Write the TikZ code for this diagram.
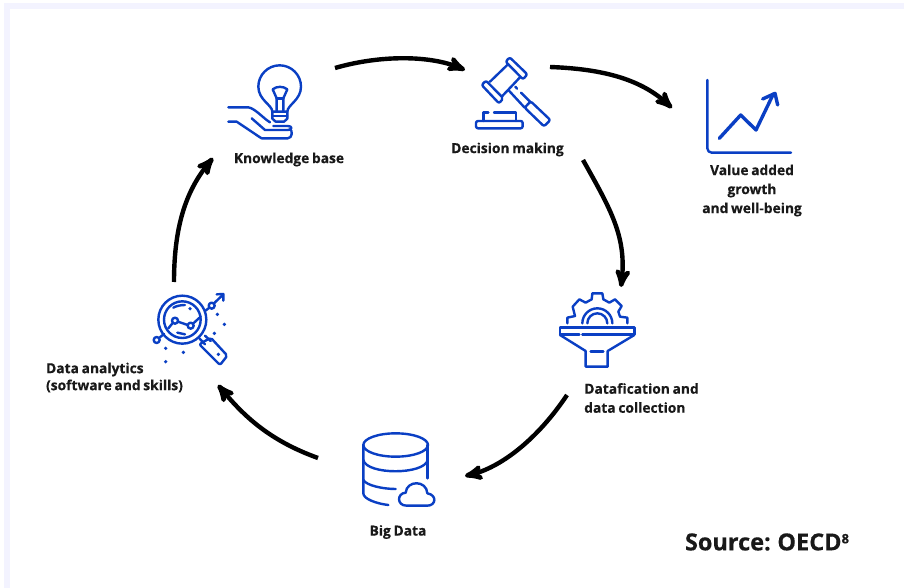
\documentclass[tikz,border=0pt]{standalone}
\usepackage{fontspec}
\setmainfont[BoldFont={Open Sans Bold},BoldFeatures={FakeBold=0.35,WordSpace=0.75}]{Open Sans}
\usepackage{tikz}
\usetikzlibrary{arrows,positioning}
\definecolor{iconblue}{HTML}{0A3FC4}
\definecolor{framelav}{HTML}{F3F3FF}

\begin{document}
\begin{tikzpicture}[x=1pt, y=-1pt,
                    >=stealth',
                    lbl/.style = {font=\fontsize{13.8}{19}\selectfont\bfseries, align=center, inner sep=0pt, color=black!90},
                    spot/.style = {inner sep=0pt, minimum width=60pt, minimum height=60pt},
                    flow/.style = {->, line width=4.4pt, color=black, line cap=butt},
                    icon/.style = {line width=2.4pt, color=iconblue, line join=round, line cap=round}
                    ]
\useasboundingbox (0,0) rectangle (904,588);
\fill[framelav] (4,3) rectangle (904,588);
\fill[white] (10,9) rectangle (904,588);

\node[spot] (bulb)    at (262,100) {};
\node[spot] (gavel)   at (508,92)  {};
\node[spot] (chart)   at (748,115) {};
\node[spot] (funnel)  at (597,330) {};
\node[spot] (bigdata) at (396,470) {};
\node[spot] (lens)    at (188,328) {};

\node[lbl] (bulbText)    at (289,159.5) {Knowledge base};
\node[lbl] (gavelText)   at (507.5,149.5) {Decision making};
\node[lbl] (chartText)   at (752,190.5) {Value added\\growth\\and well-being};
\node[lbl, align=left] (funnelText)  at (641.5,398) {Datafication and\\data collection};
\node[lbl] (bigdataText) at (398,532) {Big Data};
\node[lbl, align=left, font=\fontsize{13.8}{17}\selectfont\bfseries] (lensText)    at (114.5,377.5) {Data analytics\\(software and skills)};
\node[font=\fontsize{23.5}{26}\selectfont\bfseries, inner sep=0pt, color=black!90] (source) at (767,542) {Source: OECD\raisebox{7pt}{\fontsize{13}{13}\selectfont 8}};

% the cycle
\draw[flow] ([shift={(73,-32)}]bulb.center) .. controls +(45,-13) and +(-35,-15) .. ([shift={(-43,-22)}]gavel.center);
\draw[flow] ([shift={(42,-25)}]gavel.center) .. controls +(55,2) and +(-30,-28) .. ([shift={(-76,-7)}]chart.center);
\draw[flow] ([shift={(75,68)}]gavel.center) .. controls +(28,50) and +(6,-50) .. ([shift={(24,-43)}]funnel.center);
\draw[flow] ([shift={(-30,65)}]funnel.center) .. controls +(-30,45) and +(35,-8) .. ([shift={(69,6)}]bigdata.center);
\draw[flow] ([shift={(-78,-12)}]bigdata.center) .. controls +(-50,-18) and +(25,30) .. ([shift={(30,57)}]lens.center);
\draw[flow] ([shift={(-14,-46)}]lens.center) .. controls +(0,-60) and +(-25,30) .. ([shift={(-49,58)}]bulb.center);

% bulb
\begin{scope}[shift={(210,50)}, scale=1/3]
\draw[icon] (187,185) .. controls (187,165) and (145,150) .. (145,110) arc[start angle=180, end angle=360, radius=64] .. controls (273,150) and (232,165) .. (232,185);
\draw[icon] (187,185) -- (187,206) -- (197,215) -- (222,215) -- (232,206) -- (232,185) -- cycle;
\draw[icon] (187,198) -- (232,198);
\draw[icon] (200,182) -- (200,145) -- (188,118) .. controls (200,108) and (220,108) .. (232,118) -- (220,145) -- (220,182);
\draw[icon] (200,145) -- (220,145);
\draw[icon] (55,172) -- (115,172) .. controls (135,175) and (160,205) .. (180,217);
\draw[icon] (125,205) -- (165,240) -- (233,240) .. controls (248,240) and (248,228) .. (233,228) -- (190,228);
\draw[icon] (55,215) -- (80,215) -- (150,262) -- (155,265) -- (233,265) .. controls (248,265) and (248,240) .. (240,238);
\end{scope}

% gavel
\begin{scope}[shift={(440,40)}, scale=1/3]
\draw[icon, rounded corners=2pt] (197,65) -- (209,52) -- (262,103) -- (249,118) -- cycle;
\draw[icon, rounded corners=2pt] (125,135) -- (138,122) -- (190,175) -- (177,190) -- cycle;
\draw[icon] (205,72) -- (150,125);
\draw[icon] (240,112) -- (187,168);
\draw[icon] (205,150) -- (254,203);
\draw[icon] (243,158) -- (271,186);
\draw[icon] (226,140) -- (231,146);
\draw[icon, rounded corners=2pt] (254,203) -- (272,184) -- (331,240) -- (312,259) -- cycle;
\draw[icon, rounded corners=2pt] (108,265) -- (108,243) -- (248,243) -- (248,265) -- cycle;
\draw[icon] (130,243) -- (130,217) -- (145,217);
\draw[icon] (162,217) -- (228,217) -- (228,243);
\end{scope}

% chart
\begin{scope}[shift={(690,70)}, scale=1/3]
\draw[icon, line width=2.4pt] (52,30) -- (52,235) arc[start angle=180, end angle=90, radius=13] -- (303,248);
\draw[icon, line width=3.4pt] (88,205) -- (152,135) -- (198,180) -- (250,72);
\draw[icon, line width=3.4pt] (218,87) -- (255,70) -- (263,105);
\end{scope}

% funnel
\begin{scope}[shift={(540,280)}, scale=1/3]
\draw[icon] (82,130) -- (82,113) -- (105,108) -- (98,80) -- (118,58) -- (137,68) -- (155,58) -- (157,40) -- (187,40) -- (190,58) -- (208,68) -- (225,58) -- (245,78) -- (235,95) -- (240,110) -- (262,113) -- (262,130);
\draw[icon] (127,130) arc[start angle=180, end angle=360, radius=45];
\draw[icon] (142,130) arc[start angle=180, end angle=360, radius=30];
\draw[icon] (118,164) -- (60,164) -- (60,142) -- (283,142) -- (283,164) -- (127,164);
\draw[icon] (60,165) -- (137,213) -- (137,260) -- (203,260) -- (203,213) -- (283,165);
\draw[icon] (152,215) -- (190,215);
\end{scope}

% database
\begin{scope}[shift={(350,425)}, scale=1/3]
\draw[icon] (137,60) ellipse[x radius=97, y radius=35];
\draw[icon] (40,60) -- (40,205) .. controls (40,222) and (80,236) .. (115,240);
\draw[icon] (233,60) -- (233,160);
\draw[icon] (40,105) .. controls (50,150) and (223,150) .. (233,105);
\draw[icon] (40,165) .. controls (50,182) and (100,192) .. (137,192);
\draw[icon] (170,242) .. controls (140,242) and (140,205) .. (167,203) .. controls (170,165) and (230,165) .. (232,205) .. controls (262,210) and (258,242) .. (232,242) -- cycle;
\end{scope}

% lens
\begin{scope}[shift={(140,285)}, scale=1/3]
\draw[icon] (127,104) circle[radius=72];
\draw[icon] (127,104) circle[radius=55];
\draw[icon] (85,130) -- (99,113);
\draw[icon] (105,107) circle[radius=9];
\draw[icon] (114,110) -- (143,120);
\draw[icon] (152,122) circle[radius=9];
\draw[icon] (160,115) -- (182,95);
\draw[icon] (50,165) circle[radius=9];
\draw[icon] (57,159) -- (72,147);
\draw[icon] (215,62) circle[radius=9];
\draw[icon] (195,78) -- (208,68);
\draw[icon] (222,55) -- (249,29);
\draw[icon] (230,28) -- (250,27) -- (250,47);
\draw[icon] (100,68) .. controls (110,62) and (125,60) .. (135,60);
\draw[icon] (112,143) -- (135,148);
\draw[icon] (178,160) -- (195,178);
\draw[icon] (195,152) -- (212,168);
\draw[icon, rounded corners=2pt] (178,178) -- (212,158) -- (262,212) -- (240,240) -- cycle;
\foreach \px/\py in {232/88, 253/118, 223/145, 77/190, 130/202, 77/230, 150/71, 235/208}
  \fill[iconblue] (\px,\py) circle[radius=5.5];
\end{scope}
\end{tikzpicture}
\end{document}
